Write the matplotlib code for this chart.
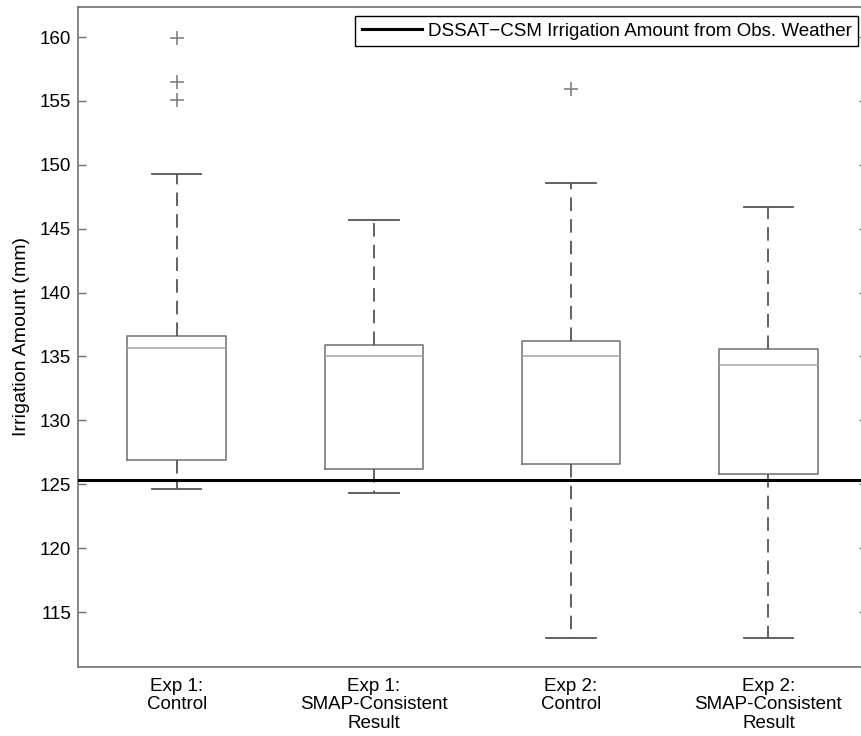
import matplotlib
matplotlib.use("Agg")
import matplotlib.pyplot as plt

plt.rcParams['font.family'] = ['Liberation Sans', 'DejaVu Sans']

# data
labels = ["Exp 1:\nControl", "Exp 1:\nSMAP-Consistent\nResult",
          "Exp 2:\nControl", "Exp 2:\nSMAP-Consistent\nResult"]
q1 = [126.9, 126.2, 126.6, 125.8]
med = [135.7, 135.05, 135.0, 134.3]
q3 = [136.6, 135.9, 136.2, 135.55]
whislo = [124.6, 124.3, 113.0, 113.0]
whishi = [149.3, 145.7, 148.6, 146.7]
fliers = [[159.9, 156.5, 155.05], [], [155.95], []]
obs_irrigation = 125.35
obs_label = "DSSAT\u2212CSM Irrigation Amount from Obs. Weather"

stats = []
for i in range(len(labels)):
    stats.append({"q1": q1[i], "med": med[i], "q3": q3[i],
                  "whislo": whislo[i], "whishi": whishi[i],
                  "fliers": fliers[i], "label": labels[i]})

fig = plt.figure(figsize=(8.61, 7.36), dpi=100)
ax = fig.add_axes([78 / 861, 1 - 667 / 736, 789 / 861, 660 / 736])

ax.bxp(stats, positions=[1, 2, 3, 4], widths=0.5, showfliers=True,
       boxprops=dict(color="#7a7a7a", linewidth=1.2),
       medianprops=dict(color="#aaaaaa", linewidth=1.2),
       whiskerprops=dict(color="#555555", linewidth=1.3, linestyle=(0, (7.5, 4.5))),
       capprops=dict(color="#555555", linewidth=1.3),
       flierprops=dict(marker="+", markeredgecolor="#808080", markersize=10,
                       markeredgewidth=1.2, linestyle="none"))

ax.axhline(obs_irrigation, color="black", linewidth=2.2, label=obs_label, zorder=5)

ax.set_xlim(0.5, 4.5)
ax.set_ylim(110.7, 162.35)
ax.set_yticks([115, 120, 125, 130, 135, 140, 145, 150, 155, 160])
ax.set_ylabel("Irrigation Amount (mm)", fontsize=14, labelpad=7)

ax.tick_params(axis="y", direction="in", length=6, width=1, color="#707070",
               labelsize=13.5, right=True, pad=5)
ax.tick_params(axis="x", length=0, labelsize=13.5, pad=8)
for t in ax.get_xticklabels():
    t.set_linespacing(1.1)
for sp in ax.spines.values():
    sp.set_color("#707070")
    sp.set_linewidth(1.2)

leg = ax.legend(loc="upper right", bbox_to_anchor=(858 / 861, 1 - 16 / 736),
                bbox_transform=fig.transFigure, borderaxespad=0, fancybox=False,
                framealpha=1, edgecolor="black", fontsize=13.5, handlelength=3.2,
                handletextpad=0.3, borderpad=0.35)
leg.get_frame().set_linewidth(1.0)

fig.savefig("out.png", dpi=100)
